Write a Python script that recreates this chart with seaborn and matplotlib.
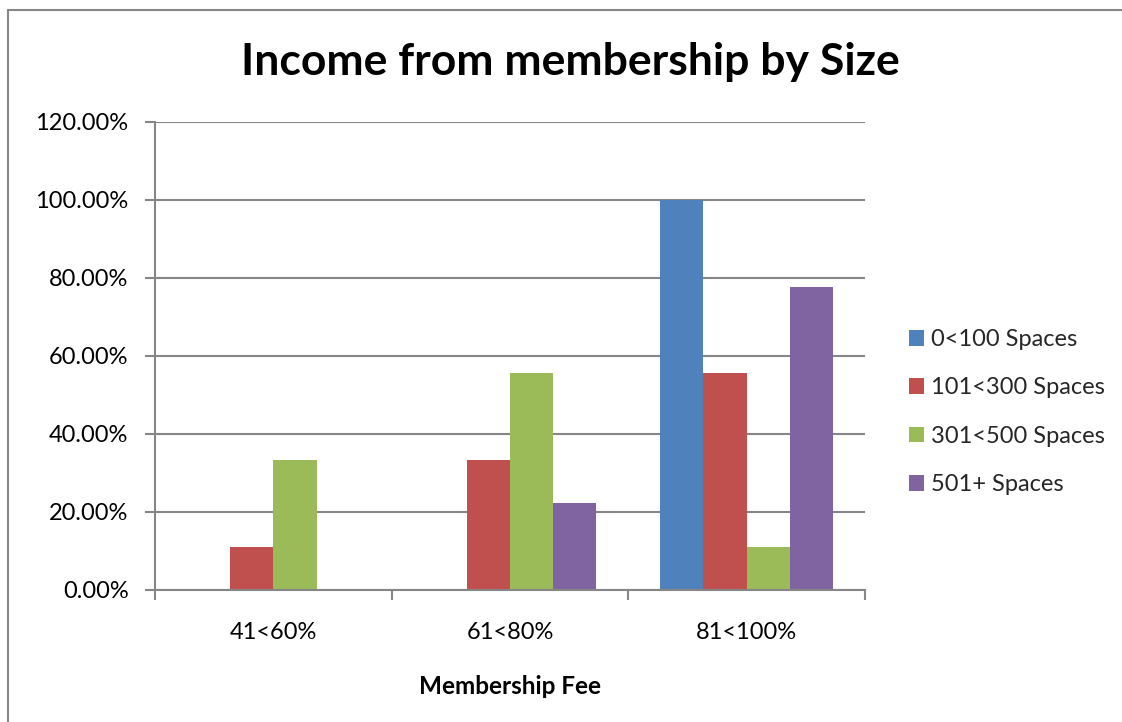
import matplotlib
matplotlib.use("Agg")
import matplotlib.pyplot as plt
from matplotlib.lines import Line2D
from matplotlib.ticker import FuncFormatter
import seaborn as sns
import pandas as pd

categories = ["41<60%", "61<80%", "81<100%"]
series_names = ["0<100 Spaces", "101<300 Spaces", "301<500 Spaces", "501+ Spaces"]
s_0_100 = [0.0, 0.0, 100.0]
s_101_300 = [11.11, 33.33, 55.56]
s_301_500 = [33.33, 55.56, 11.11]
s_501_plus = [0.0, 22.22, 77.78]
colors = ["#4F81BD", "#C0504D", "#9BBB59", "#8064A2"]
y_ticks = [0, 20, 40, 60, 80, 100, 120]

rows = []
for name, vals in zip(series_names, [s_0_100, s_101_300, s_301_500, s_501_plus]):
    for c, v in zip(categories, vals):
        rows.append({"Membership Fee": c, "Series": name, "Value": v})
df = pd.DataFrame(rows)

sns.set_theme(style="white")
plt.rcParams["font.family"] = ["Lato", "DejaVu Sans"]

fig = plt.figure(figsize=(11.22, 7.22), dpi=100)
ax = fig.add_axes([155 / 1122, 1 - 590 / 722, 710 / 1122, 468 / 722])

sns.barplot(data=df, x="Membership Fee", y="Value", hue="Series",
            order=categories, hue_order=series_names, palette=colors,
            width=0.73, gap=0, saturation=1, ax=ax, errorbar=None,
            edgecolor="none", linewidth=0)

grid_c = "#868686"
ax.set_ylim(0, 120)
ax.set_yticks(y_ticks)
ax.yaxis.set_major_formatter(FuncFormatter(lambda v, p: f"{v:.2f}%"))
ax.set_xlim(-0.5, 2.5)
ax.grid(axis="y", color=grid_c, linewidth=1.5)
ax.set_axisbelow(True)
for s in ["top", "right"]:
    ax.spines[s].set_visible(False)
for s in ["left", "bottom"]:
    ax.spines[s].set_color(grid_c)
    ax.spines[s].set_linewidth(1.5)

ax.tick_params(axis="y", which="major", length=7, width=1.5, color=grid_c,
               labelsize=17, labelcolor="black", pad=12, left=True)
ax.set_xticks([0, 1, 2])
ax.set_xticklabels(categories)
ax.set_xticks([-0.5, 0.5, 1.5, 2.5], minor=True)
ax.tick_params(axis="x", which="major", length=0, labelsize=17, labelcolor="black", pad=23)
ax.tick_params(axis="x", which="minor", length=7, width=1.5, color=grid_c, bottom=True)

ax.set_xlabel("Membership Fee", fontsize=17.5, fontweight="bold", labelpad=23, color="black")
ax.set_ylabel("")

leg = ax.legend(loc="center left", bbox_to_anchor=(754 / 710, 0.38), frameon=False,
                fontsize=17, handlelength=0.64, handleheight=0.64,
                handletextpad=0.3, labelspacing=1.16, borderpad=0, borderaxespad=0)

fig.text(0.508, 1 - 62 / 722, "Income from membership by Size", ha="center", va="center",
         fontsize=32, fontweight="bold", color="black")

fig.add_artist(Line2D([8 / 1122, 1.0], [1 - 10 / 722, 1 - 10 / 722], color=grid_c, linewidth=1.5))
fig.add_artist(Line2D([8 / 1122, 8 / 1122], [0, 1 - 10 / 722], color=grid_c, linewidth=1.5))

fig.savefig("out.png", dpi=100, facecolor="white")
